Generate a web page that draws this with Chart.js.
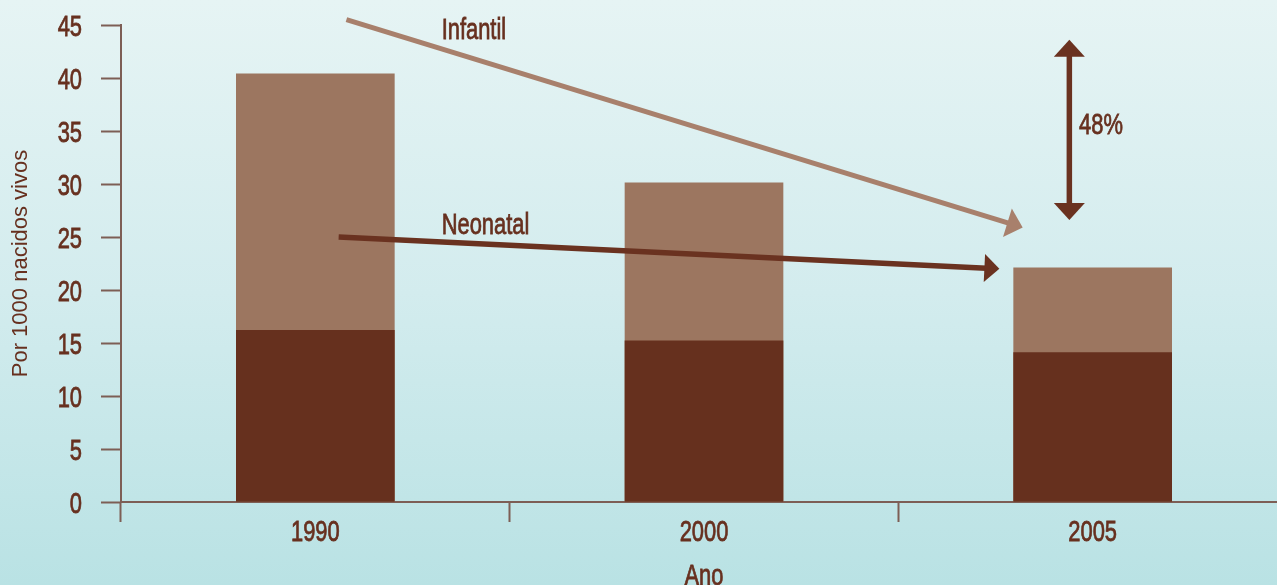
<!DOCTYPE html>
<html lang="es">
<head>
<meta charset="utf-8">
<title>Mortalidad infantil y neonatal</title>
<script src="https://cdn.jsdelivr.net/npm/chart.js@4/dist/chart.umd.min.js"></script>
<style>
  html, body { margin: 0; padding: 0; overflow: hidden; }
  body {
    width: 1277px;
    height: 585px;
    background: linear-gradient(to bottom, #e6f4f4 0%, #d3ecee 50%, #b9e2e4 100%);
  }
  #cadre { position: relative; width: 1287px; height: 585px; }
</style>
</head>
<body>
<div id="cadre"><canvas id="graphique"></canvas></div>
<script>
const annees = ['1990', '2000', '2005'];
const tauxInfantil = [40.4, 30.1, 22.1];
const tauxNeonatal = [16.2, 15.2, 14.1];
const graduationsY = [0, 5, 10, 15, 20, 25, 30, 35, 40, 45];

const couleurs = {
  texte: '#67301f',
  axe: '#7d5e55',
  barreClaire: '#9c7660',
  barreFoncee: '#66301e',
  flecheClaire: '#a8806c',
  flecheFoncee: '#6a3220',
};

// police étroite : Liberation Sans tassée horizontalement
const police = '"Liberation Sans", Arial, sans-serif';
const TASSEMENT = 0.73;
const TAILLE = 30;

// flèches et libellés, en coordonnées du graphique (indice d'année, valeur)
const fleches = [
  { de: [0.08, 45.5], a: [1.82, 25.9], couleur: couleurs.flecheClaire, epaisseur: 5, pointe: [16, 15] },
  { de: [0.06, 25.0], a: [1.76, 22.0], couleur: couleurs.flecheFoncee, epaisseur: 5.5, pointe: [15, 14] },
];
const doubleFleche = { x: 1.94, haut: 43.6, bas: 26.6 };
const libelles = [
  { texte: 'Infantil', x: 0.325, y: 44.7 },
  { texte: 'Neonatal', x: 0.325, y: 26.3 },
  { texte: '48%', x: 1.965, y: 35.7 },
];

const texteEtroit = (ctx, texte, x, y, alignement) => {
  ctx.save();
  ctx.translate(x, y);
  ctx.scale(TASSEMENT, 1);
  ctx.textAlign = alignement;
  ctx.textBaseline = 'alphabetic';
  ctx.fillText(texte, 0, 0);
  ctx.strokeText(texte, 0, 0);
  ctx.restore();
};

const pointe = (ctx, xa, ya, xb, yb, longueur, demiLargeur) => {
  const angle = Math.atan2(yb - ya, xb - xa);
  ctx.save();
  ctx.translate(xb, yb);
  ctx.rotate(angle);
  ctx.beginPath();
  ctx.moveTo(0, 0);
  ctx.lineTo(-longueur, -demiLargeur);
  ctx.lineTo(-longueur, demiLargeur);
  ctx.closePath();
  ctx.fill();
  ctx.restore();
};

const annotations = {
  id: 'annotations',
  afterDatasetsDraw(chart) {
    const { ctx } = chart;
    const sx = chart.scales.x;
    const sy = chart.scales.y;
    const px = (v) => sx.getPixelForValue(v);
    const py = (v) => sy.getPixelForValue(v);
    const demiCapitale = TAILLE * 0.36;
    ctx.save();
    fleches.forEach((f) => {
      const xa = px(f.de[0]);
      const ya = py(f.de[1]);
      const xb = px(f.a[0]);
      const yb = py(f.a[1]);
      const angle = Math.atan2(yb - ya, xb - xa);
      ctx.strokeStyle = f.couleur;
      ctx.fillStyle = f.couleur;
      ctx.lineWidth = f.epaisseur;
      ctx.beginPath();
      ctx.moveTo(xa, ya);
      ctx.lineTo(xb - Math.cos(angle) * (f.pointe[0] - 2), yb - Math.sin(angle) * (f.pointe[0] - 2));
      ctx.stroke();
      pointe(ctx, xa, ya, xb, yb, f.pointe[0], f.pointe[1]);
    });

    const x = px(doubleFleche.x);
    const yh = py(doubleFleche.haut);
    const yb = py(doubleFleche.bas);
    ctx.strokeStyle = couleurs.flecheFoncee;
    ctx.fillStyle = couleurs.flecheFoncee;
    ctx.lineWidth = 5.5;
    ctx.beginPath();
    ctx.moveTo(x, yh + 15);
    ctx.lineTo(x, yb - 15);
    ctx.stroke();
    pointe(ctx, x, yb, x, yh, 17, 15.5);
    pointe(ctx, x, yh, x, yb, 17, 15.5);

    ctx.fillStyle = couleurs.texte;
    ctx.strokeStyle = couleurs.texte;
    ctx.lineWidth = 0.8;
    ctx.font = `${TAILLE}px ${police}`;
    libelles.forEach((l) => texteEtroit(ctx, l.texte, px(l.x), py(l.y) + demiCapitale, 'left'));

    // graduations et titre de l'axe horizontal
    graduationsY.forEach((v) => texteEtroit(ctx, String(v), 82, py(v) + demiCapitale, 'right'));
    annees.forEach((a, i) => texteEtroit(ctx, a, px(i), sx.top + 39, 'center'));
    texteEtroit(ctx, 'Ano', (chart.chartArea.left + chart.chartArea.right) / 2, sx.top + 83, 'center');
    ctx.restore();
  },
};

new Chart(document.getElementById('graphique'), {
  type: 'bar',
  plugins: [annotations],
  data: {
    labels: annees,
    datasets: [
      {
        label: 'Neonatal',
        data: tauxNeonatal,
        backgroundColor: couleurs.barreFoncee,
        barThickness: 158,
        order: 0,
      },
      {
        label: 'Infantil',
        data: tauxInfantil,
        backgroundColor: couleurs.barreClaire,
        barThickness: 158,
        order: 1,
      },
    ],
  },
  options: {
    responsive: true,
    maintainAspectRatio: false,
    animation: false,
    layout: { padding: { top: 25, right: 0, bottom: 0, left: 0 } },
    plugins: {
      legend: { display: false },
      tooltip: { enabled: false },
    },
    scales: {
      x: {
        stacked: true,
        afterFit: (echelle) => { echelle.height = 83; },
        border: { color: couleurs.axe, width: 2 },
        grid: {
          offset: true,
          drawOnChartArea: false,
          drawTicks: true,
          tickLength: 20,
          tickColor: couleurs.axe,
          tickWidth: 2,
        },
        ticks: { color: 'transparent', font: { size: 6 } },
      },
      y: {
        stacked: false,
        min: 0,
        max: 45,
        afterFit: (echelle) => { echelle.width = 121; },
        afterBuildTicks: (echelle) => {
          echelle.ticks = graduationsY.map((value) => ({ value }));
        },
        border: { color: couleurs.axe, width: 2 },
        grid: {
          drawOnChartArea: false,
          drawTicks: true,
          tickLength: 20,
          tickColor: couleurs.axe,
          tickWidth: 2,
        },
        ticks: { color: 'transparent', font: { size: 6 }, padding: 18 },
        title: {
          display: true,
          text: 'Por 1000 nacidos vivos',
          color: couleurs.texte,
          font: { family: police, size: 22 },
          padding: { top: 8, bottom: 0 },
        },
      },
    },
  },
});
</script>
</body>
</html>
